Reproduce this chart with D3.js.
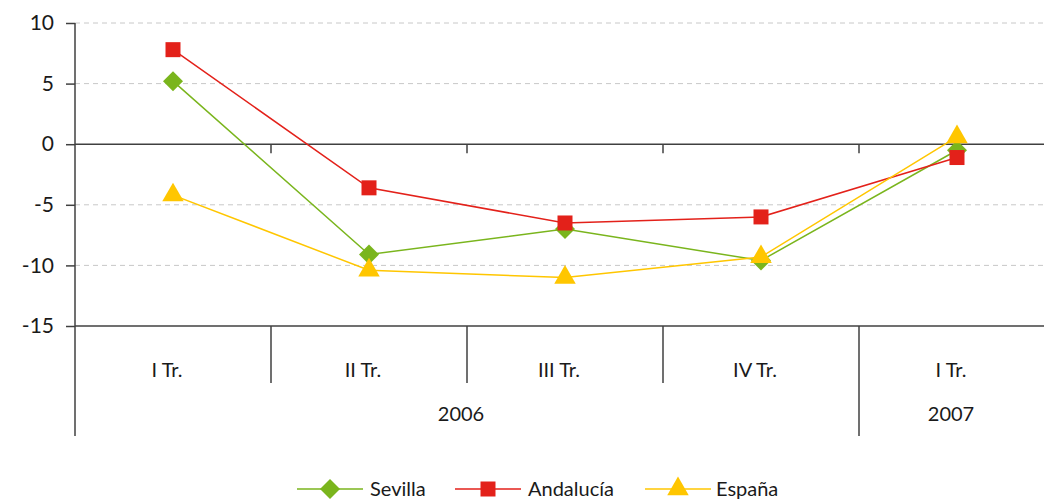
<!DOCTYPE html>
<html>
<head>
<meta charset="utf-8">
<script src="https://cdn.jsdelivr.net/npm/d3@7"></script>
<style>
  body { margin: 0; background: #fff; }
  text { font-family: Lato, "DejaVu Sans", sans-serif; fill: #1a1a1a; }
</style>
</head>
<body>
<div id="chart"></div>
<script>
// data
const quarters = ["I Tr.", "II Tr.", "III Tr.", "IV Tr.", "I Tr."];
const years = [{label: "2006", from: 0, to: 4}, {label: "2007", from: 4, to: 5}];
const sevilla = [5.2, -9.1, -7.0, -9.6, -0.5];
const andalucia = [7.8, -3.6, -6.5, -6.0, -1.1];
const espana = [-4.2, -10.4, -11.0, -9.3, 0.6];
const yTicks = [10, 5, 0, -5, -10, -15];

const series = [
  {name: "Sevilla", values: sevilla, color: "#7ab51d", symbol: d3.symbolSquare, size: 200, rot: 45},
  {name: "Andalucía", values: andalucia, color: "#e3211a", symbol: d3.symbolSquare, size: 225, rot: 0},
  {name: "España", values: espana, color: "#ffc600", symbol: d3.symbolTriangle, size: 200, rot: 0}
];

const W = 1044, H = 502;
const svg = d3.select("#chart").append("svg")
  .attr("width", W).attr("height", H);

const x0 = 75, step = 196;
const x = d3.scaleBand().domain(d3.range(quarters.length))
  .range([x0, x0 + step * quarters.length]);
const y = d3.scaleLinear().domain([-15, 10]).range([326, 23]);
const labelShift = -6;

// dashed gridlines
svg.append("g").selectAll("line")
  .data(yTicks.filter(d => d !== 0 && d !== -15))
  .join("line")
  .attr("x1", x0).attr("x2", W)
  .attr("y1", d => y(d)).attr("y2", d => y(d))
  .attr("stroke", "#c8c8c8").attr("stroke-dasharray", "5,4");

// y axis
const yAxis = svg.append("g").attr("transform", `translate(${x0},0)`)
  .call(d3.axisLeft(y).tickValues(yTicks).tickSize(9).tickPadding(12).tickFormat(d => String(d)));
yAxis.select(".domain").remove();
yAxis.selectAll(".tick line").attr("stroke", "#404040").attr("stroke-width", 1.5);
yAxis.selectAll(".tick text").attr("font-size", 21).attr("fill", "#1a1a1a")
  .style("font-family", "Lato, 'DejaVu Sans', sans-serif");

const axisCol = "#404040";
// left axis line
svg.append("line").attr("x1", x0).attr("x2", x0).attr("y1", y(10)).attr("y2", 436)
  .attr("stroke", axisCol).attr("stroke-width", 1.5);
// zero line
svg.append("line").attr("x1", x0).attr("x2", W).attr("y1", y(0)).attr("y2", y(0))
  .attr("stroke", axisCol).attr("stroke-width", 1.5);
// bottom line
svg.append("line").attr("x1", x0).attr("x2", W).attr("y1", y(-15)).attr("y2", y(-15))
  .attr("stroke", axisCol).attr("stroke-width", 1.5);

// small ticks below zero line and category separators
d3.range(1, quarters.length).forEach(i => {
  const xx = x(i);
  svg.append("line").attr("x1", xx).attr("x2", xx).attr("y1", y(0)).attr("y2", y(0) + 9)
    .attr("stroke", axisCol).attr("stroke-width", 1.5);
  const isYear = years.some(yr => yr.from === i);
  svg.append("line").attr("x1", xx).attr("x2", xx).attr("y1", y(-15))
    .attr("y2", isYear ? 436 : 383)
    .attr("stroke", axisCol).attr("stroke-width", 1.5);
});

// category labels
svg.append("g").selectAll("text").data(quarters).join("text")
  .attr("x", (d, i) => x(i) + x.bandwidth() / 2 + labelShift)
  .attr("y", 377).attr("text-anchor", "middle").attr("font-size", 20)
  .text(d => d);

svg.append("g").selectAll("text").data(years).join("text")
  .attr("x", d => (x(d.from) + x(d.to - 1) + x.bandwidth()) / 2 + labelShift)
  .attr("y", 421).attr("text-anchor", "middle").attr("font-size", 20)
  .text(d => d.label);

// lines and markers
const line = d3.line().x((d, i) => x(i) + x.bandwidth() / 2).y(d => y(d));
series.forEach(s => {
  svg.append("path").datum(s.values)
    .attr("d", line).attr("fill", "none")
    .attr("stroke", s.color).attr("stroke-width", 1.5);
});
series.forEach(s => {
  svg.append("g").selectAll("path").data(s.values).join("path")
    .attr("transform", (d, i) => `translate(${x(i) + x.bandwidth() / 2},${y(d)}) rotate(${s.rot})`)
    .attr("d", d3.symbol().type(s.symbol).size(s.size))
    .attr("fill", s.color);
});

// legend
const legendX = [297, 455, 645];
const lg = svg.append("g").selectAll("g").data(series).join("g")
  .attr("transform", (d, i) => `translate(${legendX[i]},489)`);
lg.append("line").attr("x1", 0).attr("x2", 66)
  .attr("stroke", d => d.color).attr("stroke-width", 1.5);
lg.append("path").attr("transform", d => `translate(33,0) rotate(${d.rot})`)
  .attr("d", d => d3.symbol().type(d.symbol).size(d.size)())
  .attr("fill", d => d.color);
lg.append("text").attr("x", (d, i) => [73, 73, 71][i]).attr("y", 7)
  .attr("font-size", 20).text(d => d.name);
</script>
</body>
</html>
